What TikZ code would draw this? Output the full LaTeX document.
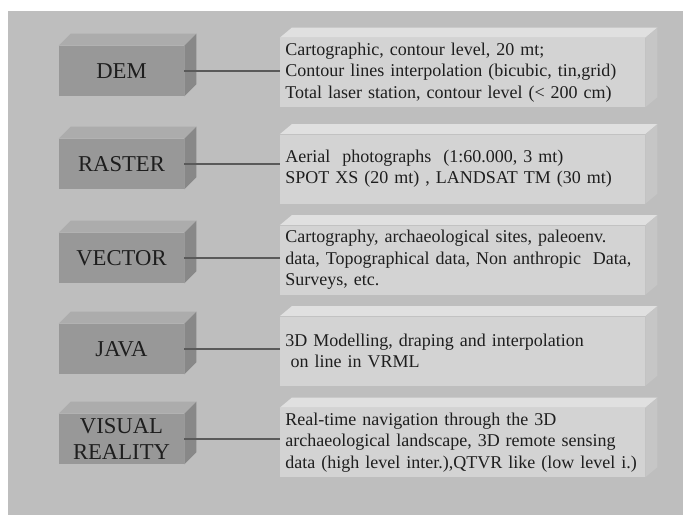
\documentclass[tikz,border=0pt]{standalone}
\usepackage{fontspec}
\setmainfont{Liberation Serif}
\usetikzlibrary{positioning,calc}

\definecolor{panelgray}{RGB}{190,190,190}
\definecolor{lfront}{RGB}{152,152,152}
\definecolor{ltop}{RGB}{172,172,172}
\definecolor{lside}{RGB}{136,136,136}
\definecolor{rfront}{RGB}{211,211,211}
\definecolor{rtop}{RGB}{224,224,224}
\definecolor{rside}{RGB}{198,198,198}
\definecolor{linkgray}{RGB}{90,90,90}
\definecolor{inkgray}{RGB}{30,30,30}

\begin{document}
\begin{tikzpicture}[x=0.75pt,y=0.75pt,yscale=-1,xscale=1,
  labelbox/.style={fill=lfront, inner sep=0pt, minimum width=93.75pt, minimum height=37.5pt,
    align=center, text=inkgray, font=\fontsize{17}{20}\selectfont},
  infobox/.style={fill=rfront, inner xsep=4pt, inner ysep=0pt, text width=265.75pt,
    minimum height=51.75pt, align=left, text=inkgray, font=\fontsize{13.5}{16}\selectfont},
  link/.style={draw=linkgray, line width=1.5pt}]
\useasboundingbox (0,0) rectangle (683,515);
\fill[white] (0,0) rectangle (683,515);
%panel
\fill[panelgray] (8,11) rectangle (683,515);

% Label boxes
\node[labelbox] (dem) at (121.5,71) {DEM};
\node[labelbox] (raster) at (121.5,164) {RASTER};
\node[labelbox] (vector) at (121.5,258) {VECTOR};
\node[labelbox] (java) at (121.5,349) {JAVA};
\node[labelbox] (visual) at (121.5,439) {VISUAL\\REALITY};

% Text boxes
\node[infobox] (demtext) at (462.5,72.5) {Cartographic, contour level, 20 mt;\\Contour lines interpolation (bicubic, tin,grid)\\Total laser station, contour level (< 200 cm)};
\node[infobox] (rastertext) at (462.5,169) {Aerial~ photographs~ (1:60.000, 3 mt)\\SPOT XS (20 mt) , LANDSAT TM (30 mt)};
\node[infobox] (vectortext) at (462.5,260) {Cartography, archaeological sites, paleoenv.\\data, Topographical data, Non anthropic~ Data,\\Surveys, etc.};
\node[infobox] (javatext) at (462.5,351) {3D Modelling, draping and interpolation\\\hspace{0.3em}on line in VRML};
\node[infobox] (visualtext) at (462.5,442.5) {Real-time navigation through the 3D\\archaeological landscape, 3D remote sensing\\data (high level inter.),QTVR like (low level i.)};

% 3D faces
\foreach \n in {dem,raster,vector,java,visual}{
  \fill[ltop] (\n.north west) -- ++(12,-12) -- ($(\n.north east)+(12,-12)$) -- (\n.north east) -- cycle;
  \fill[lside] (\n.north east) -- ++(12,-12) -- ($(\n.south east)+(12,-12)$) -- (\n.south east) -- cycle;
  \fill[rtop] (\n text.north west) -- ++(12,-10) -- ($(\n text.north east)+(12,-10)$) -- (\n text.north east) -- cycle;
  \fill[rside] (\n text.north east) -- ++(12,-10) -- ($(\n text.south east)+(12,-10)$) -- (\n text.south east) -- cycle;
  \draw[link] (\n.east) -- (\n.east -| \n text.west);
}

\end{tikzpicture}
\end{document}
